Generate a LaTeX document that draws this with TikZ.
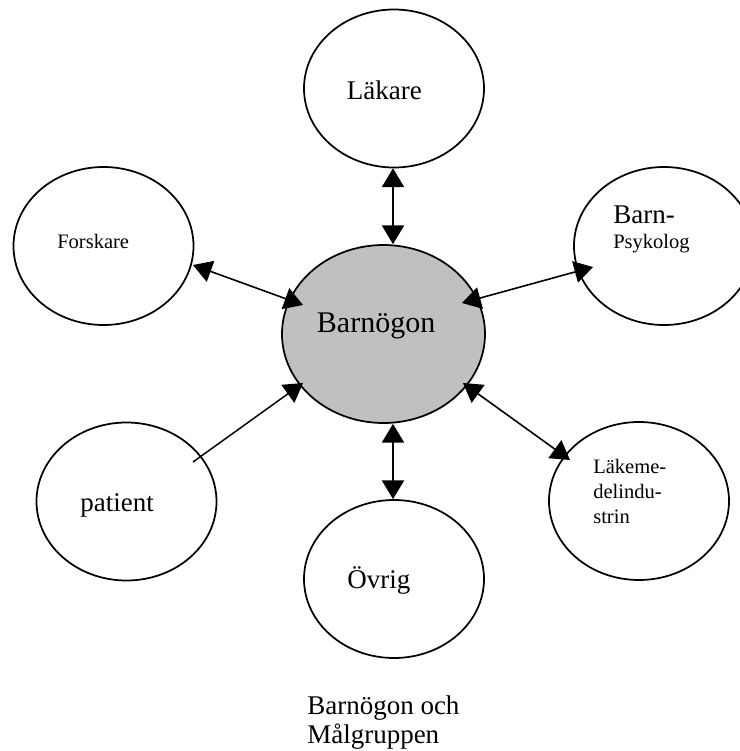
\documentclass[tikz,border=0pt]{standalone}
\usepackage{fontspec}
\setmainfont{Liberation Serif}
\usetikzlibrary{shapes.geometric,arrows.meta,calc}
\definecolor{hubgray}{RGB}{192,192,192}
\begin{document}
\begin{tikzpicture}[x=0.75pt,y=-0.75pt,
  bubble/.style={draw,ellipse,line width=1.3pt,minimum width=135pt,minimum height=118.5pt,inner sep=0pt},
  hub/.style={bubble,fill=hubgray,minimum width=152.25pt,minimum height=133.5pt},
  tip/.style={Triangle[length=14pt,width=16.5pt]},
  link/.style={line width=1.2pt,{Triangle[length=14pt,width=16.5pt]}-{Triangle[length=14pt,width=16.5pt]}},
  oneway/.style={line width=1.1pt,-{Triangle[length=14pt,width=16.5pt]}},
  txt/.style={inner sep=0pt,anchor=base west},
  big/.style={txt,font=\fontsize{20.25}{24}\selectfont},
  small/.style={txt,font=\fontsize{15.4}{18.75}\selectfont},
  hubtxt/.style={txt,font=\fontsize{22.5}{27}\selectfont}]
\useasboundingbox (0,0) rectangle (740,751);

% bubbles
\node[bubble] (lak)  at (394,88.5)  {};
\node[bubble] (fors) at (103.5,246) {};
\node[bubble] (psyk) at (664,246)   {};
\node[hub]    (barn) at (383.5,334) {};
\node[bubble] (pat)  at (126.5,501.5) {};
\node[bubble] (lmi)  at (639,501)   {};
\node[bubble] (ovr)  at (394,579)   {};

% texts
\node[big]    (lakT)  at (346.7,99)  {Läkare};
\node[small]  (forsT) at (57,248.3)  {Forskare};
\node[small]  (psykT) at (613,223)   {\begin{tabular}[t]{@{}l@{}}\fontsize{20.25}{24}\selectfont Barn-\\Psykolog\end{tabular}};
\node[hubtxt] (barnT) at (316.7,332) {Barnögon};
\node[big]    (patT)  at (80,511.7)  {patient};
\node[small]  (lmiT)  at (593,473)   {\begin{tabular}[t]{@{}l@{}}Läkeme-\\delindu-\\strin\end{tabular}};
\node[big]    (ovrT)  at (347,588)   {Övrig};
\node[txt,font=\fontsize{20.25}{21.75}\selectfont] (capT) at (307,714)
  {\begin{tabular}[t]{@{}l@{}}Barnögon och\\Målgruppen\end{tabular}};

% connectors
\draw[link] ($(lak.south)+(-1,0)$) -- ($(barn.north)+(9.5,0)$);
\draw[link] ($(fors)+(89.5,19)$) -- ($(barn)+(-80.5,-29)$);
\draw[link] ($(barn)+(78.5,-31)$) -- ($(psyk)+(-71,21)$);
\draw[oneway] ($(pat)+(66.5,-39.5)$) -- ($(barn)+(-80.5,49)$);
\draw[link] ($(barn)+(79.5,49)$) -- ($(lmi)+(-69,-41)$);
\draw[link] ($(barn.south)+(9.5,0)$) -- ($(ovr.north)+(-1,0)$);
\end{tikzpicture}
\end{document}
